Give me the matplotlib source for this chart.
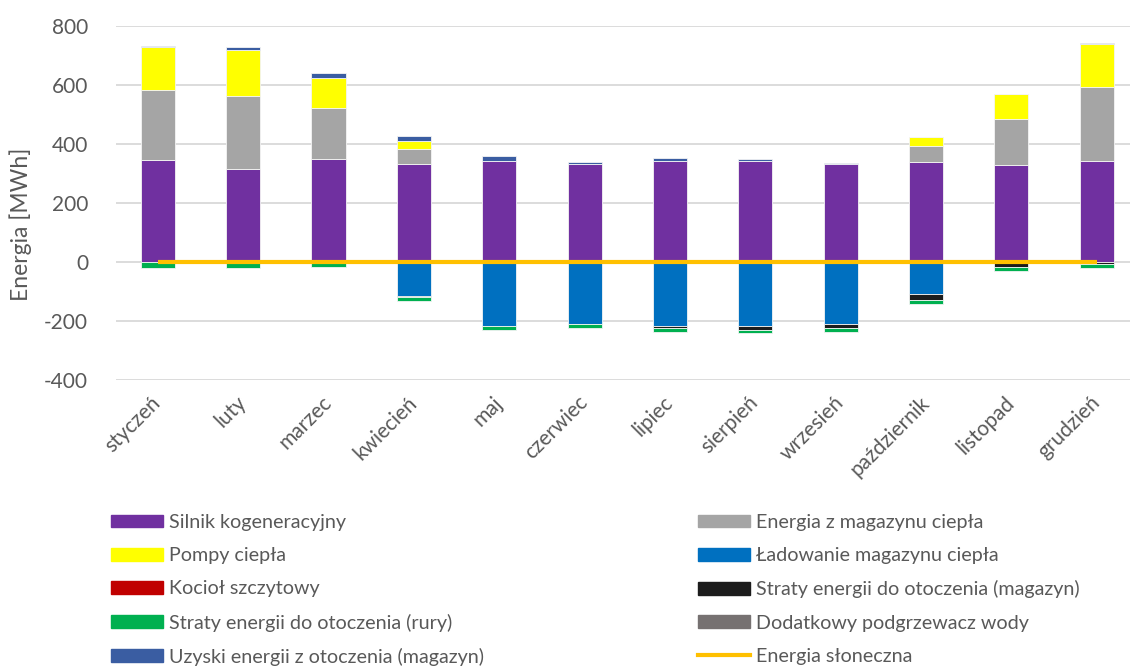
import matplotlib.pyplot as plt
from matplotlib.patches import Patch
from matplotlib.lines import Line2D
import numpy as np

plt.rcParams['font.family'] = ['Lato', 'DejaVu Sans']
plt.rcParams['axes.unicode_minus'] = False

months = ['styczeń', 'luty', 'marzec', 'kwiecień', 'maj', 'czerwiec',
          'lipiec', 'sierpień', 'wrzesień', 'październik', 'listopad', 'grudzień']

# positive contributions [MWh]
silnik = [346, 315, 349, 333, 342, 332, 342, 342, 332, 338, 328, 341]
magazyn_out = [237, 248, 173, 50, 0, 0, 0, 0, 0, 55, 156, 251]
pompy = [146, 156, 102, 27, 0, 0, 0, 0, 0, 32, 84, 148]
kociol = [0, 0, 0, 0, 0, 0, 0, 0, 0, 0, 0, 0]
podgrzewacz = [0, 0, 0, 0, 0, 0, 0, 0, 0, 0, 0, 0]
uzyski = [4, 9, 18, 18, 16, 6, 9, 8, 5, 0, 0, 2]

# negative contributions [MWh]
ladowanie = [0, 0, 0, -116, -217, -211, -218, -218, -211, -110, 0, 0]
straty_mag = [0, 0, 0, -2, 0, 0, -7, -11, -14, -20, -18, -6]
straty_rury = [-19, -19, -16, -13, -13, -12, -11, -12, -13, -14, -12, -15]

slonce = [0, 0, 0, 0, 0, 0, 0, 0, 0, 0, 0, 0]

c_silnik = '#7030A0'
c_mag = '#A5A5A5'
c_pompy = '#FFFF00'
c_lad = '#0070C0'
c_kociol = '#C00000'
c_smag = '#1C1C1C'
c_rury = '#00B050'
c_podg = '#767171'
c_uzyski = '#3A5DA2'
c_slonce = '#FFC000'

fig = plt.figure(figsize=(11.3, 6.66), dpi=100)
ax = fig.add_axes([116 / 1130, 1 - 380 / 666, 1014 / 1130, 354 / 666])

x = np.arange(len(months))
w = 0.40
ek = dict(edgecolor='#f4f4f4', linewidth=0.6, zorder=3)

bottom = np.zeros(len(months))
for vals, col in [(silnik, c_silnik), (magazyn_out, c_mag), (pompy, c_pompy),
                  (kociol, c_kociol), (podgrzewacz, c_podg), (uzyski, c_uzyski)]:
    v = np.array(vals, dtype=float)
    ax.bar(x, v, w, bottom=bottom, color=col, **ek)
    bottom += v

bottom = np.zeros(len(months))
for vals, col in [(ladowanie, c_lad), (straty_mag, c_smag), (straty_rury, c_rury)]:
    v = np.array(vals, dtype=float)
    ax.bar(x, v, w, bottom=bottom, color=col, **ek)
    bottom += v

ax.plot(x, slonce, color=c_slonce, lw=3, zorder=4, solid_capstyle='butt')

ax.set_ylim(-400, 800)
ax.set_xlim(-0.49, 11.39)
ax.set_yticks(range(-400, 801, 200))
ax.yaxis.grid(True, color='#d9d9d9', lw=1.3, zorder=0)
ax.set_axisbelow(True)
for s in ax.spines.values():
    s.set_visible(False)
ax.tick_params(axis='both', length=0, labelsize=15, colors='#595959')
ax.tick_params(axis='y', pad=20)
ax.tick_params(axis='x', pad=14)
ax.set_xticks(x)
ax.set_xticklabels(months, rotation=45, ha='right', va='center', rotation_mode='anchor')
ax.set_ylabel('Energia [MWh]', fontsize=16.5, color='#595959')
ax.yaxis.set_label_coords(-0.083, 0.44)

col1 = [Patch(color=c_silnik, label='Silnik kogeneracyjny'),
        Patch(color=c_pompy, label='Pompy ciepła'),
        Patch(color=c_kociol, label='Kocioł szczytowy'),
        Patch(color=c_rury, label='Straty energii do otoczenia (rury)'),
        Patch(color=c_uzyski, label='Uzyski energii z otoczenia (magazyn)')]
col2 = [Patch(color=c_mag, label='Energia z magazynu ciepła'),
        Patch(color=c_lad, label='Ładowanie magazynu ciepła'),
        Patch(color=c_smag, label='Straty energii do otoczenia (magazyn)'),
        Patch(color=c_podg, label='Dodatkowy podgrzewacz wody'),
        Line2D([], [], color=c_slonce, lw=3, label='Energia słoneczna')]

leg_kw = dict(loc='upper left', frameon=False, fontsize=14.2, labelcolor='#595959',
              handlelength=2.65, handleheight=0.62, handletextpad=0.3,
              labelspacing=0.82, borderpad=0, borderaxespad=0)
fig.legend(handles=col1, bbox_to_anchor=(111 / 1130, 1 - 514 / 666), **leg_kw)
fig.legend(handles=col2, bbox_to_anchor=(698 / 1130, 1 - 514 / 666), **leg_kw)

fig.savefig('out.png', dpi=100)
